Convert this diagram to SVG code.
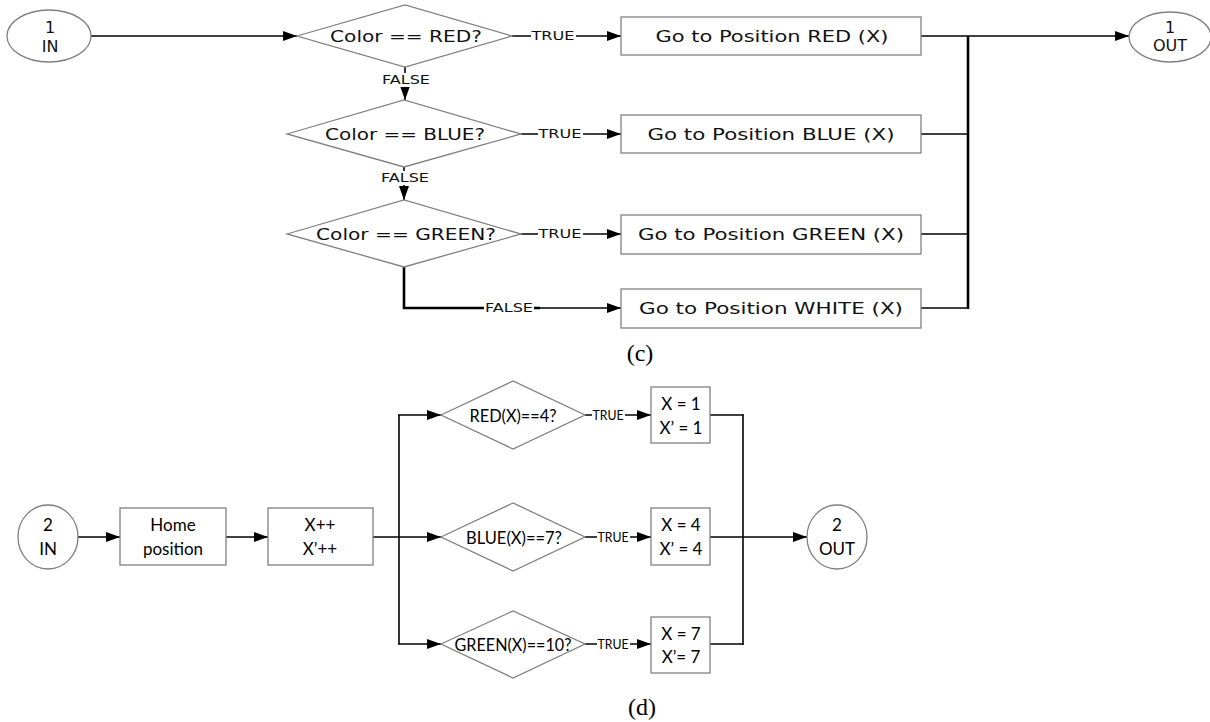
<svg xmlns="http://www.w3.org/2000/svg" width="1210" height="722" viewBox="0 0 1210 722">
<defs>
<style>
.shape{fill:#fff;stroke:#808080;stroke-width:1.3}
.ln{fill:none;stroke:#000;stroke-width:1.6}
.bus{fill:none;stroke:#000;stroke-width:2.6}
.t1{font-family:"DejaVu Sans",Verdana,sans-serif;font-size:16px;fill:#111;text-anchor:middle;dominant-baseline:central}
.lbl{font-family:"DejaVu Sans",Verdana,sans-serif;font-size:12px;fill:#111;text-anchor:middle;dominant-baseline:central}
.t2{font-family:Lato,"Liberation Sans",sans-serif;font-size:17px;fill:#000;text-anchor:middle;dominant-baseline:central}
.lbl2{font-family:Lato,"Liberation Sans",sans-serif;font-size:13px;fill:#000;text-anchor:middle;dominant-baseline:central}
.cap{font-family:"Liberation Serif","Times New Roman",serif;font-size:24px;fill:#000;text-anchor:middle}
.bg{fill:#fff;stroke:none}
</style>
<marker id="arr" markerUnits="userSpaceOnUse" markerWidth="16" markerHeight="12" refX="14" refY="5" orient="auto">
<path d="M0,0 L14,5 L0,10 z" fill="#000"/>
</marker>
</defs>

<!-- connectors -->
<g id="connectors">
<!-- section c -->
<line class="ln" x1="91" y1="36" x2="297" y2="36" marker-end="url(#arr)"/>
<line class="ln" x1="512" y1="36" x2="621" y2="36" marker-end="url(#arr)"/>
<line class="ln" x1="521" y1="134" x2="621" y2="134" marker-end="url(#arr)"/>
<line class="ln" x1="521" y1="234" x2="621" y2="234" marker-end="url(#arr)"/>
<line class="ln" x1="405" y1="67" x2="405" y2="100" marker-end="url(#arr)"/>
<line class="ln" x1="404" y1="166" x2="404" y2="200" marker-end="url(#arr)"/>
<path class="bus" d="M404,267 V308 H540"/>
<line class="ln" x1="540" y1="308" x2="621" y2="308" marker-end="url(#arr)"/>
<line class="ln" x1="921" y1="36" x2="1129" y2="36" marker-end="url(#arr)"/>
<line class="ln" x1="921" y1="134" x2="968" y2="134"/>
<line class="ln" x1="921" y1="234" x2="968" y2="234"/>
<line class="ln" x1="921" y1="308" x2="968" y2="308"/>
<line class="bus" x1="968" y1="36" x2="968" y2="309"/>
<!-- labels c -->
<rect class="bg" x="531" y="29" width="45" height="14"/>
<text class="lbl" x="553" y="36" textLength="43" lengthAdjust="spacingAndGlyphs">TRUE</text>
<rect class="bg" x="538" y="127" width="45" height="14"/>
<text class="lbl" x="560" y="134" textLength="43" lengthAdjust="spacingAndGlyphs">TRUE</text>
<rect class="bg" x="538" y="227" width="45" height="14"/>
<text class="lbl" x="560" y="234" textLength="43" lengthAdjust="spacingAndGlyphs">TRUE</text>
<rect class="bg" x="381" y="73" width="50" height="14"/>
<text class="lbl" x="406" y="80" textLength="48" lengthAdjust="spacingAndGlyphs">FALSE</text>
<rect class="bg" x="380" y="171" width="50" height="14"/>
<text class="lbl" x="405" y="178" textLength="48" lengthAdjust="spacingAndGlyphs">FALSE</text>
<rect class="bg" x="484" y="301" width="50" height="14"/>
<text class="lbl" x="509" y="308" textLength="48" lengthAdjust="spacingAndGlyphs">FALSE</text>

<!-- section d -->
<line class="ln" x1="78" y1="537" x2="120" y2="537" marker-end="url(#arr)"/>
<line class="ln" x1="226" y1="537" x2="268" y2="537" marker-end="url(#arr)"/>
<line class="ln" x1="373" y1="537" x2="441" y2="537" marker-end="url(#arr)"/>
<line class="ln" x1="399" y1="415" x2="399" y2="644"/>
<line class="ln" x1="398" y1="415" x2="441" y2="415" marker-end="url(#arr)"/>
<line class="ln" x1="398" y1="644" x2="441" y2="644" marker-end="url(#arr)"/>
<line class="ln" x1="585" y1="415" x2="651" y2="415" marker-end="url(#arr)"/>
<line class="ln" x1="585" y1="537" x2="651" y2="537" marker-end="url(#arr)"/>
<line class="ln" x1="585" y1="644" x2="651" y2="644" marker-end="url(#arr)"/>
<line class="ln" x1="710" y1="415" x2="743" y2="415"/>
<line class="ln" x1="710" y1="644" x2="743" y2="644"/>
<line class="ln" x1="743" y1="414" x2="743" y2="645"/>
<line class="ln" x1="710" y1="537" x2="807" y2="537" marker-end="url(#arr)"/>
<rect class="bg" x="592" y="408" width="33" height="14"/>
<text class="lbl2" x="608" y="415" textLength="31" lengthAdjust="spacingAndGlyphs">TRUE</text>
<rect class="bg" x="597" y="530" width="33" height="14"/>
<text class="lbl2" x="613" y="537" textLength="31" lengthAdjust="spacingAndGlyphs">TRUE</text>
<rect class="bg" x="597" y="637" width="33" height="14"/>
<text class="lbl2" x="613" y="644" textLength="31" lengthAdjust="spacingAndGlyphs">TRUE</text>
</g>

<!-- section c nodes -->
<g id="in1">
<ellipse class="shape" cx="49" cy="36" rx="42" ry="26"/>
<text class="t1" x="50" y="27">1</text>
<text class="t1" x="50" y="46">IN</text>
</g>
<g id="dec-red">
<polygon class="shape" points="297,36 405,5 512,36 405,67"/>
<text class="t1" x="406" y="36" textLength="152" lengthAdjust="spacingAndGlyphs">Color == RED?</text>
</g>
<g id="dec-blue">
<polygon class="shape" points="287,134 404,100 521,134 404,167"/>
<text class="t1" x="405" y="134" textLength="160" lengthAdjust="spacingAndGlyphs">Color == BLUE?</text>
</g>
<g id="dec-green">
<polygon class="shape" points="287,234 404,200 521,234 404,267"/>
<text class="t1" x="406" y="234" textLength="180" lengthAdjust="spacingAndGlyphs">Color == GREEN?</text>
</g>
<g id="pos-red">
<rect class="shape" x="621" y="17" width="300" height="38"/>
<text class="t1" x="772" y="36" textLength="233" lengthAdjust="spacingAndGlyphs">Go to Position RED (X)</text>
</g>
<g id="pos-blue">
<rect class="shape" x="621" y="115" width="300" height="38"/>
<text class="t1" x="771" y="134" textLength="247" lengthAdjust="spacingAndGlyphs">Go to Position BLUE (X)</text>
</g>
<g id="pos-green">
<rect class="shape" x="621" y="215" width="300" height="39"/>
<text class="t1" x="771" y="234" textLength="266" lengthAdjust="spacingAndGlyphs">Go to Position GREEN (X)</text>
</g>
<g id="pos-white">
<rect class="shape" x="621" y="289" width="300" height="39"/>
<text class="t1" x="771" y="308" textLength="264" lengthAdjust="spacingAndGlyphs">Go to Position WHITE (X)</text>
</g>
<g id="out1">
<ellipse class="shape" cx="1170" cy="37" rx="41" ry="25"/>
<text class="t1" x="1170" y="27">1</text>
<text class="t1" x="1170" y="45">OUT</text>
</g>
<text class="cap" x="640" y="361">(c)</text>

<!-- section d nodes -->
<g id="in2">
<ellipse class="shape" cx="48" cy="537" rx="30" ry="32"/>
<text class="t2" x="48" y="524">2</text>
<text class="t2" x="48" y="548">IN</text>
</g>
<g id="home">
<rect class="shape" x="120" y="508" width="106" height="57"/>
<text class="t2" x="173" y="524">Home</text>
<text class="t2" x="173" y="548">position</text>
</g>
<g id="incr">
<rect class="shape" x="268" y="508" width="105" height="57"/>
<text class="t2" x="320" y="524">X++</text>
<text class="t2" x="320" y="548">X’++</text>
</g>
<g id="dec-red2">
<polygon class="shape" points="441,415 513,381 585,415 513,449"/>
<text class="t2" x="513" y="415" textLength="87" lengthAdjust="spacingAndGlyphs">RED(X)==4?</text>
</g>
<g id="dec-blue2">
<polygon class="shape" points="441,537 513,503 585,537 513,571"/>
<text class="t2" x="514" y="537" textLength="96" lengthAdjust="spacingAndGlyphs">BLUE(X)==7?</text>
</g>
<g id="dec-green2">
<polygon class="shape" points="441,644 513,611 585,644 513,678"/>
<text class="t2" x="513" y="644" textLength="117" lengthAdjust="spacingAndGlyphs">GREEN(X)==10?</text>
</g>
<g id="set1">
<rect class="shape" x="651" y="387" width="59" height="56"/>
<text class="t2" x="681" y="403">X = 1</text>
<text class="t2" x="681" y="427">X’ = 1</text>
</g>
<g id="set4">
<rect class="shape" x="651" y="508" width="59" height="57"/>
<text class="t2" x="681" y="524">X = 4</text>
<text class="t2" x="681" y="548">X’ = 4</text>
</g>
<g id="set7">
<rect class="shape" x="651" y="617" width="59" height="56"/>
<text class="t2" x="681" y="633">X = 7</text>
<text class="t2" x="681" y="656">X’= 7</text>
</g>
<g id="out2">
<ellipse class="shape" cx="837" cy="537" rx="30" ry="32"/>
<text class="t2" x="837" y="524">2</text>
<text class="t2" x="837" y="548">OUT</text>
</g>
<text class="cap" x="642" y="715">(d)</text>
</svg>
